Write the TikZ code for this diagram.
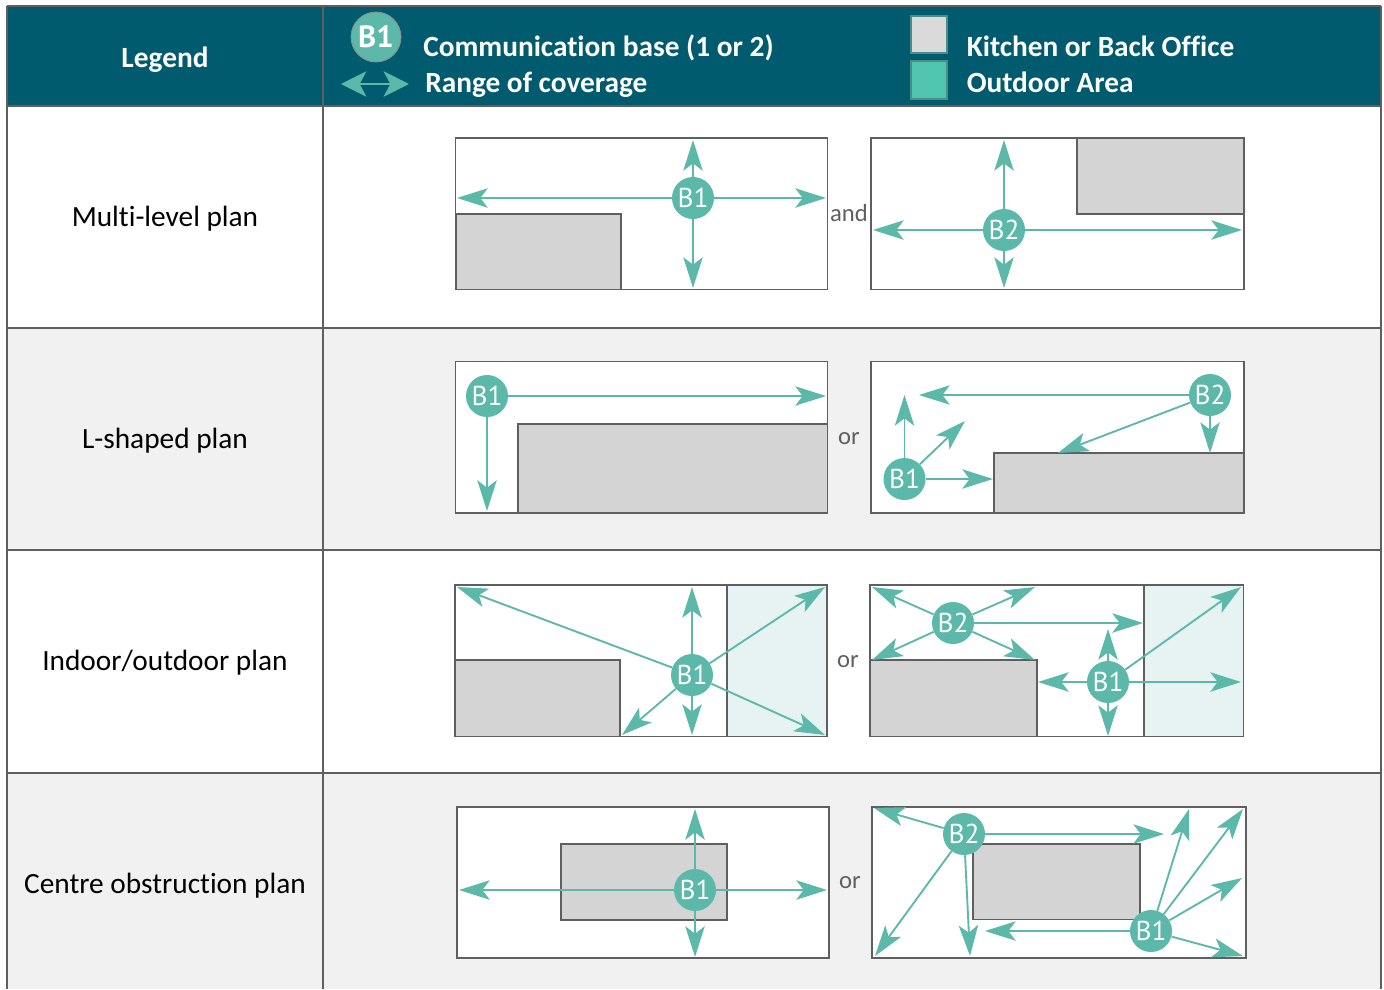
\documentclass[tikz,border=0pt]{standalone}
\usepackage{fontspec}
\setmainfont[Ligatures=NoCommon]{Carlito}
\newfontfamily\basefont{PT Sans}
\usetikzlibrary{arrows.meta}
\definecolor{headteal}{HTML}{005B6E}
\definecolor{rng}{HTML}{5CB8A9}
\definecolor{rule}{HTML}{5F5F5F}
\definecolor{obst}{HTML}{D4D4D4}
\definecolor{outd}{HTML}{E6F3F2}
\definecolor{rowgrey}{HTML}{F1F1F1}
\definecolor{swatchteal}{HTML}{4FC4AE}
\definecolor{swatchgrey}{HTML}{DADADA}
\definecolor{swatchedge}{HTML}{4E8C86}
\tikzset{
  x=0.75pt,y=-0.75pt,
  tablerule/.style={draw=rule,line width=1.2pt},
  plan/.style={draw=rule,line width=1.1pt,fill=white},
  obstacle/.style={draw=rule,line width=1.1pt,fill=obst},
  outdoor/.style={draw=rule,line width=1.1pt,fill=outd},
  cover/.style={draw=rng,line width=1.4pt,-{Stealth[length=23pt,width=14.5pt,inset=5.5pt]}},
  base/.style={circle,fill=rng,text=white,inner sep=0pt,minimum size=31.5pt,font=\basefont\fontsize{20.5}{22}\selectfont},
  rowlabel/.style={font=\fontsize{22}{24}\selectfont,text=black,inner sep=0pt},
  headtext/.style={font=\bfseries\fontsize{22}{24}\selectfont,text=white,inner sep=0pt,anchor=base west},
  joiner/.style={font=\fontsize{18.5}{20}\selectfont,text=rule,inner sep=0pt},
  swatch/.style={draw=swatchedge,line width=1.9pt,inner sep=0pt,minimum width=27pt},
}
\begin{document}
\begin{tikzpicture}
\useasboundingbox (0,0) rectangle (1384,989);
\fill[white] (0,0) rectangle (1384,989);
% rows
\fill[rowgrey] (7,328) rectangle (1381,550);
\fill[rowgrey] (7,773) rectangle (1381,989);
\fill[headteal] (7,6) rectangle (1381,106);
\draw[tablerule] (7,6) -- (1381,6);
\draw[tablerule] (7,106) -- (1381,106);
\draw[tablerule] (7,328) -- (1381,328);
\draw[tablerule] (7,550) -- (1381,550);
\draw[tablerule] (7,773) -- (1381,773);
\draw[tablerule] (7,6) -- (7,989);
\draw[tablerule] (323,6) -- (323,989);
\draw[tablerule] (1381,6) -- (1381,989);
% header
\node[font=\bfseries\fontsize{22}{24}\selectfont,text=white,inner sep=0pt] (legend) at (165,59.5) {Legend};
\node[base,minimum size=37.5pt,draw=rule!70,line width=0.6pt,font=\basefont\bfseries\fontsize{23}{24}\selectfont] (lgbase) at (376,37) {B1};
\coordinate (lgl) at (341,84);
\coordinate (lgr) at (409,84);
\draw[draw=rng,line width=2.2pt,{Stealth[length=19pt,width=19pt,inset=5pt]}-{Stealth[length=19pt,width=19pt,inset=5pt]}] (lgl) -- (lgr);
\node[headtext] (tbase) at (423,56) {Communication base (1 or 2)};
\node[headtext] (trange) at (425,92) {Range of coverage};
\node[swatch,fill=swatchgrey,minimum height=27.8pt] (swg) at (929,34.5) {};
\node[swatch,fill=swatchteal,minimum height=28.5pt] (swt) at (929,80) {};
\node[headtext] (tkit) at (966.5,56) {Kitchen or Back Office};
\node[headtext] (tout) at (966.5,92) {Outdoor Area};
% row labels
\node[rowlabel] (r1) at (165,219) {Multi-level plan};
\node[rowlabel] (r2) at (165,441) {L-shaped plan};
\node[rowlabel] (r3) at (165,663) {Indoor/outdoor plan};
\node[rowlabel] (r4) at (165,886) {Centre obstruction plan};
\node[joiner] (j1) at (849,213) {and};
\node[joiner] (j2) at (849,439) {or};
\node[joiner] (j3) at (848,662) {or};
\node[joiner] (j4) at (850,883) {or};

% ---- multi-level A
\draw[plan] (455.5,138) rectangle (827.5,289.5);
\draw[obstacle] (456,214) rectangle (621,289.5);
\node[base] (ab1) at (693,198) {B1};
\coordinate (au) at (693,140); \coordinate (al) at (457,198);
\coordinate (ar) at (826,198); \coordinate (ad) at (693,288);
\draw[cover] (ab1) -- (au); \draw[cover] (ab1) -- (al);
\draw[cover] (ab1) -- (ar); \draw[cover] (ab1) -- (ad);
% ---- multi-level B
\draw[plan] (871,138) rectangle (1244,289.5);
\draw[obstacle] (1077,138) rectangle (1244,214);
\node[base] (bb2) at (1004,230) {B2};
\coordinate (bu) at (1004,140); \coordinate (bl) at (873,230);
\coordinate (br) at (1242,230); \coordinate (bd) at (1004,288);
\draw[cover] (bb2) -- (bu); \draw[cover] (bb2) -- (bl);
\draw[cover] (bb2) -- (br); \draw[cover] (bb2) -- (bd);

% ---- L-shaped A
\draw[plan] (455.5,361.5) rectangle (827.5,513);
\draw[obstacle] (518,424) rectangle (827.5,513);
\node[base] (cb1) at (487,396) {B1};
\coordinate (cr) at (826,396); \coordinate (cd) at (487,511);
\draw[cover] (cb1) -- (cr); \draw[cover] (cb1) -- (cd);
% ---- L-shaped B
\draw[plan] (871,361.5) rectangle (1244,513);
\draw[obstacle] (994,453) rectangle (1244,512.5);
\node[base] (db2) at (1210,395) {B2};
\node[base] (db1) at (904.5,479) {B1};
\coordinate (d1) at (919,395); \coordinate (d2) at (1058,453); \coordinate (d3) at (1210,453);
\coordinate (d4) at (904.5,395); \coordinate (d5) at (965,421); \coordinate (d6) at (993,479);
\draw[cover] (db2) -- (d1); \draw[cover] (db2) -- (d2); \draw[cover] (db2) -- (d3);
\draw[cover] (db1) -- (d4); \draw[cover] (db1) -- (d5); \draw[cover] (db1) -- (d6);

% ---- indoor/outdoor A
\draw[plan] (455,585) rectangle (827,736.5);
\draw[outdoor] (727,585) rectangle (827,736.5);
\draw[obstacle] (455,660) rectangle (620,736.5);
\node[base] (eb1) at (692,675) {B1};
\coordinate (e1) at (457,587); \coordinate (e2) at (692,587); \coordinate (e3) at (825,587);
\coordinate (e4) at (825,735); \coordinate (e5) at (692,735); \coordinate (e6) at (622,735);
\draw[cover] (eb1) -- (e1); \draw[cover] (eb1) -- (e2); \draw[cover] (eb1) -- (e3);
\draw[cover] (eb1) -- (e4); \draw[cover] (eb1) -- (e5); \draw[cover] (eb1) -- (e6);
% ---- indoor/outdoor B
\draw[plan] (870,585) rectangle (1243.5,736.5);
\draw[outdoor] (1144,585) rectangle (1243.5,736.5);
\draw[obstacle] (870,660) rectangle (1037,736.5);
\node[base] (fb2) at (953,623) {B2};
\node[base] (fb1) at (1108,682) {B1};
\coordinate (f1) at (872,587); \coordinate (f2) at (1035,587); \coordinate (f3) at (872,660);
\coordinate (f4) at (1035,660); \coordinate (f5) at (1143,623);
\coordinate (f6) at (1108,629); \coordinate (f7) at (1038,682); \coordinate (f8) at (1108,736);
\coordinate (f9) at (1241,682); \coordinate (f10) at (1241,587);
\draw[cover] (fb2) -- (f1); \draw[cover] (fb2) -- (f2); \draw[cover] (fb2) -- (f3);
\draw[cover] (fb2) -- (f4); \draw[cover] (fb2) -- (f5);
\draw[cover] (fb1) -- (f6); \draw[cover] (fb1) -- (f7); \draw[cover] (fb1) -- (f8);
\draw[cover] (fb1) -- (f9); \draw[cover] (fb1) -- (f10);

% ---- centre A
\draw[plan] (457,807) rectangle (829,958);
\draw[obstacle] (561,844) rectangle (727,920);
\node[base] (gb1) at (695,890) {B1};
\coordinate (g1) at (695,809); \coordinate (g2) at (459,890);
\coordinate (g3) at (827,890); \coordinate (g4) at (695,957);
\draw[cover] (gb1) -- (g1); \draw[cover] (gb1) -- (g2);
\draw[cover] (gb1) -- (g3); \draw[cover] (gb1) -- (g4);
% ---- centre B
\draw[plan] (872,807) rectangle (1246,958);
\draw[obstacle] (973,844) rectangle (1140,919.5);
\node[base] (hb2) at (964,834) {B2};
\node[base] (hb1) at (1151,931) {B1};
\coordinate (h1) at (874,808); \coordinate (h2) at (1164,834);
\coordinate (h3) at (875,956); \coordinate (h4) at (970,956);
\coordinate (h5) at (985,931); \coordinate (h6) at (1189,809);
\coordinate (h7) at (1243,809); \coordinate (h8) at (1242,878); \coordinate (h9) at (1243,956);
\draw[cover] (hb2) -- (h1); \draw[cover] (hb2) -- (h2); \draw[cover] (hb2) -- (h3); \draw[cover] (hb2) -- (h4);
\draw[cover] (hb1) -- (h5); \draw[cover] (hb1) -- (h6); \draw[cover] (hb1) -- (h7);
\draw[cover] (hb1) -- (h8); \draw[cover] (hb1) -- (h9);
\end{tikzpicture}
\end{document}
